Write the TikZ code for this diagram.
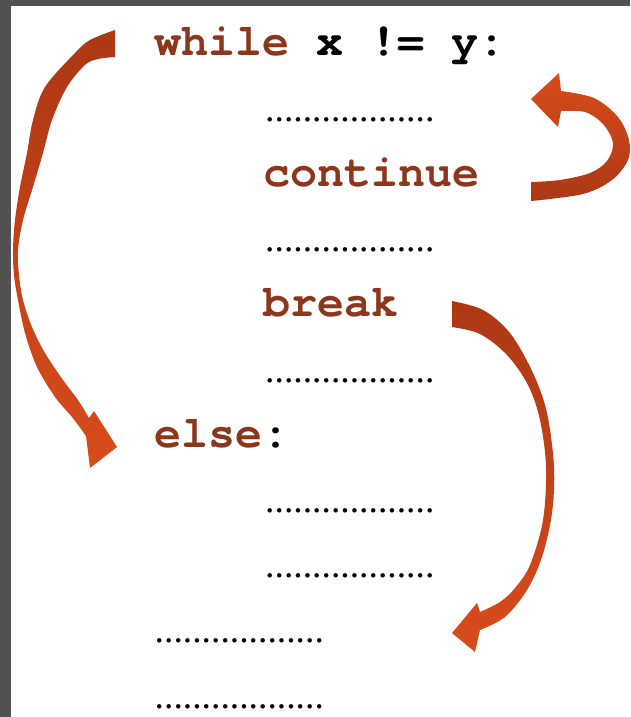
\documentclass[tikz,border=0pt]{standalone}
\usepackage{fontspec}
\newfontfamily\codefont{TeX Gyre Cursor}
\newfontfamily\dotfont{Liberation Serif}
\definecolor{kw}{RGB}{140,55,28}
\definecolor{bordergray}{RGB}{82,82,82}
\definecolor{arrowdark}{RGB}{172,56,20}
\definecolor{arrowlight}{RGB}{216,76,28}
\tikzset{
  code/.style={font=\codefont\bfseries\fontsize{45}{45}\selectfont, inner sep=0pt, anchor=base west},
  dotline/.style={font=\dotfont\fontsize{37.6}{37.6}\selectfont, inner sep=0pt, anchor=base west},
  downshade/.style={top color=arrowdark, bottom color=arrowlight},
  upshade/.style={top color=arrowlight, bottom color=arrowdark},
  edge/.style={smooth, tension=0.55}
}
\begin{document}
\begin{tikzpicture}[x=1pt,y=-1pt]
\fill[bordergray] (0,0) rectangle (630,717);
\fill[white] (11,6) rectangle (630,717);
\useasboundingbox (0,0) rectangle (630,717);

% code lines
\node[code] (while) at (154,56) {\textcolor{kw}{while} x != y:};
\node[dotline] (d1) at (265,121.2) {..................};
\node[code] (cont) at (263,186.4) {\textcolor{kw}{continue}};
\node[dotline] (d2) at (265,251.6) {..................};
\node[code] (brk) at (263,316.8) {\textcolor{kw}{break}};
\node[dotline] (d3) at (265,382) {..................};
\node[code] (else) at (154,447.2) {\textcolor{kw}{else}:};
\node[dotline] (d4) at (265,512.4) {..................};
\node[dotline] (d5) at (265,577.6) {..................};
\node[dotline] (d6) at (154.5,642.8) {..................};
\node[dotline] (d7) at (154.5,708) {..................};

% left arrow: while -> else
\shade[downshade]
  plot[edge] coordinates {(115,30) (90,40) (75,53) (45,87) (33,120) (27,153) (20,187) (15,220) (13,250) (14,275) (18,300) (25,333) (37,367) (55,397) (72,417) (86,436)}
  -- (90,468) -- (117,447) -- (94,411) -- (89,418)
  -- plot[edge] coordinates {(89,418) (78,400) (63,380) (45,353) (32,327) (23,300) (19,275) (18,250) (23,220) (33,187) (43,153) (52,120) (67,87) (85,65) (98,59) (115,57)}
  -- cycle;

% continue arrow
\shade[upshade]
  plot[edge] coordinates {(531,201) (583,194) (612,180) (628,160) (629,140) (618,117) (594,98) (561,91)}
  -- (559,73) -- (531,99) -- (558,127) -- (561,111)
  -- plot[edge] coordinates {(561,111) (585,112) (603,124) (613,143) (607,161) (590,173) (560,180) (531,182)}
  -- cycle;

% break arrow
\shade[downshade]
  plot[edge] coordinates {(452,301) (483,310) (510,333) (533,373) (547,413) (554,467) (552,513) (542,557) (527,590) (505,617) (480,630)}
  -- (475,652) -- (452,633) -- (477,603) -- (480,612)
  -- plot[edge] coordinates {(480,612) (500,602) (515,588) (530,565) (543,520) (546,467) (540,420) (528,385) (507,355) (480,334) (452,327)}
  -- cycle;
\end{tikzpicture}
\end{document}
